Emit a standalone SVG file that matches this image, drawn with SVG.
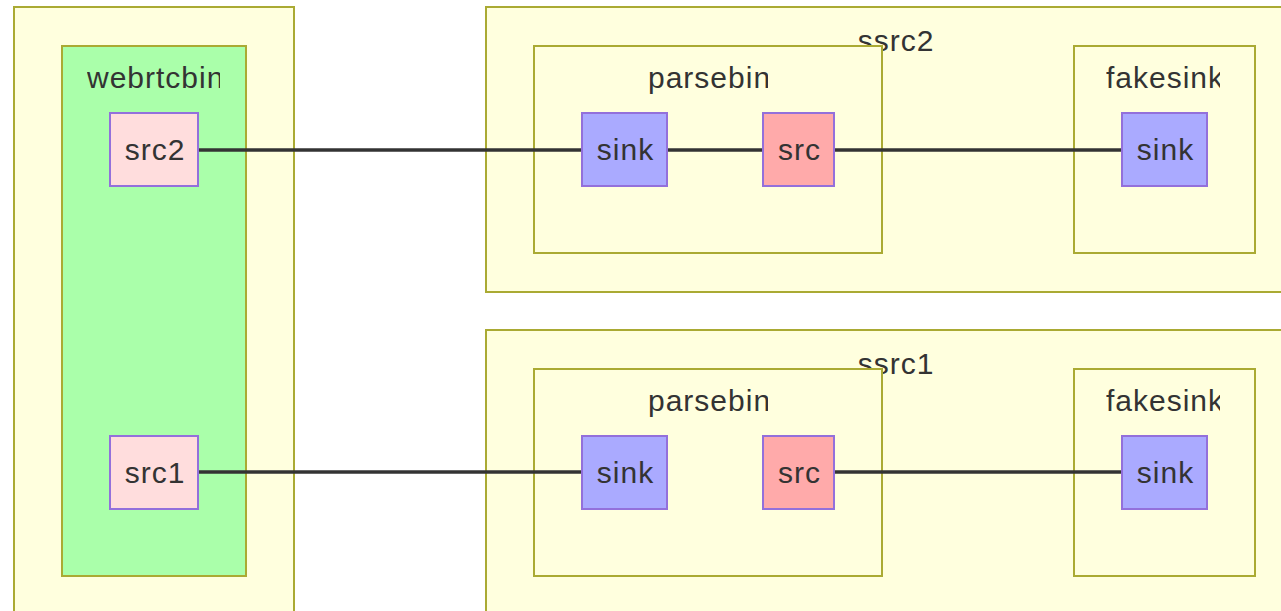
<svg xmlns="http://www.w3.org/2000/svg" width="1281" height="611" viewBox="0 0 1281 611">
<style>
.cl{fill:#ffffde;stroke:#aaaa33;stroke-width:2}
.wb{fill:#aaffaa;stroke:#aaaa33;stroke-width:2}
.pad{stroke:#9370db;stroke-width:2}
.rsrc{fill:#ffdddd}
.sink{fill:#aaaaff}
.src{fill:#ffaaaa}
text{font-family:"Liberation Sans",Arial,sans-serif;font-size:30px;letter-spacing:1px;fill:#333}
.c{text-anchor:middle}
.e{stroke:#333;stroke-width:3.5;fill:none}
</style>
<defs>
<clipPath id="cw"><rect x="87" y="50" width="133" height="50"/></clipPath>
<clipPath id="cp1"><rect x="648" y="50" width="120" height="50"/></clipPath>
<clipPath id="cf1"><rect x="1106" y="50" width="114" height="50"/></clipPath>
<clipPath id="cp2"><rect x="648" y="373" width="120" height="50"/></clipPath>
<clipPath id="cf2"><rect x="1106" y="373" width="114" height="50"/></clipPath>
</defs>
<g id="clusters">
<g id="outer"><rect class="cl" x="14" y="7" width="280" height="620"/></g>
<g id="webrtcbin"><rect class="wb" x="62" y="46" width="184" height="530"/>
<text x="87" y="88" clip-path="url(#cw)">webrtcbin</text></g>
<g id="ssrc2"><rect class="cl" x="486" y="7" width="820" height="285"/>
<text class="c" x="896" y="51">ssrc2</text></g>
<g id="parsebin2"><rect class="cl" x="534" y="46" width="348" height="207"/>
<text x="648" y="88" clip-path="url(#cp1)">parsebin</text></g>
<g id="fakesink2"><rect class="cl" x="1074" y="46" width="181" height="207"/>
<text x="1106" y="88" clip-path="url(#cf1)">fakesink</text></g>
<g id="ssrc1"><rect class="cl" x="486" y="330" width="820" height="300"/>
<text class="c" x="896" y="374">ssrc1</text></g>
<g id="parsebin1"><rect class="cl" x="534" y="369" width="348" height="207"/>
<text x="648" y="411" clip-path="url(#cp2)">parsebin</text></g>
<g id="fakesink1"><rect class="cl" x="1074" y="369" width="181" height="207"/>
<text x="1106" y="411" clip-path="url(#cf2)">fakesink</text></g>
</g>
<g id="connectors">
<path class="e" d="M198 150H582"/>
<path class="e" d="M667 150H763"/>
<path class="e" d="M834 150H1122"/>
<path class="e" d="M198 472H582"/>
<path class="e" d="M834 472H1122"/>
</g>
<g id="src2"><rect class="pad rsrc" x="110" y="113" width="88" height="73"/><text class="c" x="155" y="160">src2</text></g>
<g id="src1"><rect class="pad rsrc" x="110" y="436" width="88" height="73"/><text class="c" x="155" y="483">src1</text></g>
<g id="sink2a"><rect class="pad sink" x="582" y="113" width="85" height="73"/><text class="c" x="625.5" y="160">sink</text></g>
<g id="src2a"><rect class="pad src" x="763" y="113" width="71" height="73"/><text class="c" x="799.5" y="160">src</text></g>
<g id="sink2b"><rect class="pad sink" x="1122" y="113" width="85" height="73"/><text class="c" x="1165.5" y="160">sink</text></g>
<g id="sink1a"><rect class="pad sink" x="582" y="436" width="85" height="73"/><text class="c" x="625.5" y="483">sink</text></g>
<g id="src1a"><rect class="pad src" x="763" y="436" width="71" height="73"/><text class="c" x="799.5" y="483">src</text></g>
<g id="sink1b"><rect class="pad sink" x="1122" y="436" width="85" height="73"/><text class="c" x="1165.5" y="483">sink</text></g>
</svg>
